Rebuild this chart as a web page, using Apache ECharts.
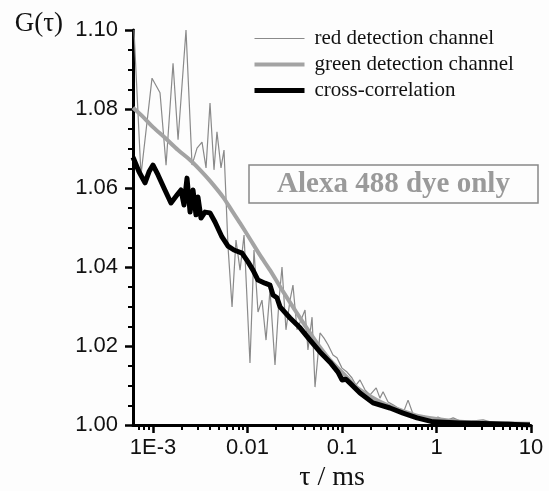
<!DOCTYPE html>
<html>
<head>
<meta charset="utf-8">
<script src="https://cdn.jsdelivr.net/npm/echarts@6/dist/echarts.min.js"></script>
<style>
html,body{margin:0;padding:0;background:#fdfdfd;}
#chart{width:549px;height:491px;}
</style>
</head>
<body>
<div id="chart"></div>
<script>
// ---- data (tau in ms, G(tau)) ----
const seriesNames = ['red detection channel', 'green detection channel', 'cross-correlation'];

const tauRed = [6.29e-4, 7.46e-4, 9.76e-4, 1.186e-3, 1.374e-3, 1.629e-3, 1.841e-3, 2.234e-3, 2.588e-3, 2.922e-3,
  3.30e-3, 3.64e-3, 4.01e-3, 4.42e-3, 4.75e-3, 5.24e-3, 5.64e-3, 6.22e-3, 6.86e-3, 7.55e-3,
  8.34e-3, 9.19e-3, 1.062e-2, 1.171e-2, 1.291e-2, 1.423e-2, 1.57e-2, 1.73e-2, 1.954e-2, 2.153e-2,
  2.317e-2, 2.553e-2, 2.818e-2, 3.027e-2, 3.34e-2, 3.68e-2, 4.06e-2, 4.36e-2, 4.82e-2, 5.18e-2,
  5.85e-2, 6.45e-2, 7.11e-2, 8.03e-2, 8.85e-2, 0.100, 0.113, 0.1276, 0.1406, 0.155,
  0.175, 0.198, 0.230, 0.252, 0.272, 0.307, 0.347, 0.392, 0.443, 0.500,
  0.564, 0.637, 0.737, 0.853, 1.037, 1.23, 1.50, 1.86, 2.38, 3.11,
  4.16, 5.71, 7.66, 9.75];
const gRed = [1.1000, 1.0633, 1.0878, 1.0841, 1.0658, 1.0916, 1.0722, 1.1000, 1.0658, 1.0701,
  1.0716, 1.0651, 1.0815, 1.0646, 1.0742, 1.0651, 1.0696, 1.0451, 1.0299, 1.0468,
  1.0392, 1.0481, 1.0157, 1.0443, 1.0286, 1.0316, 1.0215, 1.0342, 1.0152, 1.0316,
  1.0400, 1.0241, 1.0316, 1.0354, 1.0241, 1.0266, 1.0291, 1.0190, 1.0273, 1.0096,
  1.0233, 1.0220, 1.0203, 1.0177, 1.0170, 1.0144, 1.0134, 1.0119, 1.0101, 1.0114,
  1.0089, 1.0076, 1.0094, 1.0068, 1.0084, 1.0058, 1.0051, 1.0043, 1.0030, 1.0063,
  1.0028, 1.0018, 1.0023, 1.0013, 1.0020, 1.0010, 1.0018, 1.0008, 1.0010, 1.0013,
  1.0005, 1.0008, 1.0005, 1.0003];

const tauGreen = [6.14e-4, 7.84e-4, 1.0e-3, 1.339e-3, 1.841e-3, 2.466e-3, 3.14e-3, 4.01e-3, 5.51e-3, 6.86e-3,
  8.34e-3, 1.062e-2, 1.355e-2, 1.73e-2, 2.317e-2, 3.18e-2, 4.36e-2, 5.85e-2, 7.83e-2, 0.100,
  0.1374, 0.198, 0.285, 0.411, 0.637, 1.01, 1.776, 3.68, 9.75];
const gGreen = [1.0803, 1.0780, 1.0754, 1.0727, 1.0696, 1.0671, 1.0646, 1.0618, 1.0577, 1.0542,
  1.0511, 1.0471, 1.0430, 1.0392, 1.0342, 1.0291, 1.0241, 1.0197, 1.0159, 1.0134,
  1.0099, 1.0073, 1.0053, 1.0038, 1.0023, 1.0015, 1.0008, 1.0005, 1.0003];

const tauCross = [6.14e-4, 7.11e-4, 8.23e-4, 9.07e-4, 1.0e-3, 1.13e-3, 1.306e-3, 1.549e-3, 1.793e-3, 1.977e-3,
  2.128e-3, 2.29e-3, 2.466e-3, 2.65e-3, 2.85e-3, 2.99e-3, 3.22e-3, 3.55e-3, 4.01e-3, 4.53e-3,
  5.37e-3, 6.22e-3, 7.19e-3, 8.75e-3, 1.012e-2, 1.143e-2, 1.291e-2, 1.531e-2, 1.73e-2, 1.862e-2,
  2.05e-2, 2.21e-2, 2.818e-2, 3.60e-2, 4.59e-2, 5.85e-2, 7.46e-2, 9.07e-2, 0.100, 0.110,
  0.1216, 0.155, 0.213, 0.322, 0.443, 0.622, 0.918, 1.776, 3.96, 9.75];
const gCross = [1.0678, 1.0641, 1.0613, 1.0641, 1.0658, 1.0633, 1.0600, 1.0562, 1.0582, 1.0595,
  1.0557, 1.0625, 1.0539, 1.0595, 1.0532, 1.0577, 1.0524, 1.0539, 1.0537, 1.0514,
  1.0476, 1.0453, 1.0443, 1.0435, 1.0413, 1.0392, 1.0367, 1.0359, 1.0354, 1.0329,
  1.0322, 1.0299, 1.0271, 1.0246, 1.0215, 1.0185, 1.0159, 1.0134, 1.0114, 1.0116,
  1.0106, 1.0081, 1.0056, 1.0043, 1.0030, 1.0018, 1.0008, 1.0005, 1.0003, 1.0000];

// ---- axis ticks ----
const xTickValues = [0.001, 0.01, 0.1, 1, 10];
const xTickLabels = ['1E-3', '0.01', '0.1', '1', '10'];
const xMinorTickValues = [7e-4, 8e-4, 9e-4,
  2e-3, 3e-3, 4e-3, 5e-3, 6e-3, 7e-3, 8e-3, 9e-3,
  0.02, 0.03, 0.04, 0.05, 0.06, 0.07, 0.08, 0.09,
  0.2, 0.3, 0.4, 0.5, 0.6, 0.7, 0.8, 0.9,
  2, 3, 4, 5, 6, 7, 8, 9];
const xMin = 6.14e-4, xMax = 10;
const yMin = 1.0, yMax = 1.1, yStep = 0.02;

const zip = (a, b) => a.map((t, i) => [t, b[i]]);
const sans = "'Liberation Sans', Arial, sans-serif";
const serif = "'Liberation Serif', 'Times New Roman', serif";

const lineColors = ['#8a8a8a', '#a3a3a3', '#000000'];
const lineWidths = [1.2, 4, 5];

const chart = echarts.init(document.getElementById('chart'), null, {renderer: 'canvas'});
chart.setOption({
  animation: false,
  backgroundColor: '#fdfdfd',
  grid: {left: 133, top: 30, right: 18, bottom: 66, containLabel: false, outerBoundsMode: 'none'},
  legend: {
    left: 252, top: 28, orient: 'vertical', padding: 0,
    itemWidth: 50, itemHeight: 12, itemGap: 5,
    itemStyle: {opacity: 0},
    data: seriesNames.map((n, i) => ({name: n, lineStyle: {width: lineWidths[i], color: lineColors[i]}})),
    textStyle: {fontFamily: serif, fontSize: 21, color: '#111', padding: [0, 0, 0, 5]}
  },
  xAxis: [{
    type: 'log', logBase: 10, min: xMin, max: xMax,
    name: 'τ / ms', nameLocation: 'middle', nameGap: 36,
    nameTextStyle: {fontFamily: serif, fontSize: 28, color: '#111'},
    axisLine: {show: true, lineStyle: {color: '#000', width: 3}},
    axisTick: {show: true, length: 8, lineStyle: {color: '#000', width: 2.5}, customValues: xTickValues},
    axisLabel: {
      margin: 12, fontFamily: sans, fontSize: 22, color: '#111',
      customValues: xTickValues,
      formatter: function (v) {
        const i = xTickValues.findIndex(x => Math.abs(Math.log10(x) - Math.log10(v)) < 1e-6);
        return i >= 0 ? xTickLabels[i] : '';
      }
    },
    splitLine: {show: false}, minorTick: {show: false}
  }, {
    type: 'log', logBase: 10, min: xMin, max: xMax, position: 'bottom', offset: 0,
    axisLine: {show: false},
    axisTick: {show: true, length: 5, lineStyle: {color: '#000', width: 2}, customValues: xMinorTickValues},
    axisLabel: {show: false, customValues: xMinorTickValues},
    splitLine: {show: false}
  }],
  yAxis: {
    type: 'value', min: yMin, max: yMax, interval: yStep,
    name: 'G(τ)', nameLocation: 'end', nameGap: 6,
    nameTextStyle: {fontFamily: serif, fontSize: 27, color: '#111', align: 'right', verticalAlign: 'middle', padding: [0, 70, 0, 0]},
    axisLine: {show: true, lineStyle: {color: '#000', width: 3}},
    axisTick: {show: true, length: 8, lineStyle: {color: '#000', width: 2.5}},
    minorTick: {show: true, splitNumber: 4, length: 5, lineStyle: {color: '#000', width: 2}},
    axisLabel: {margin: 15, fontFamily: sans, fontSize: 22, color: '#111', formatter: v => v.toFixed(2)},
    splitLine: {show: false}
  },
  series: [{
    name: seriesNames[0], type: 'line', data: zip(tauRed, gRed), symbol: 'none',
    lineStyle: {color: lineColors[0], width: lineWidths[0]}, itemStyle: {color: lineColors[0]}, z: 2
  }, {
    name: seriesNames[1], type: 'line', data: zip(tauGreen, gGreen), symbol: 'none', smooth: 0.3,
    lineStyle: {color: lineColors[1], width: lineWidths[1]}, itemStyle: {color: lineColors[1]}, z: 3
  }, {
    name: seriesNames[2], type: 'line', data: zip(tauCross, gCross), symbol: 'none',
    lineStyle: {color: lineColors[2], width: lineWidths[2], join: 'round'}, itemStyle: {color: lineColors[2]}, z: 4
  }],
  graphic: [{
    type: 'rect', x: 249, y: 165, z: 10,
    shape: {width: 289, height: 38},
    style: {fill: 'rgba(0,0,0,0)', stroke: '#888', lineWidth: 1.5}
  }, {
    type: 'text', x: 393.5, y: 185, z: 11,
    style: {text: 'Alexa 488 dye only', font: "bold 29px 'Liberation Serif', 'Times New Roman', serif",
      fill: '#9a9a9a', textAlign: 'center', textVerticalAlign: 'middle'}
  }]
});
</script>
</body>
</html>
